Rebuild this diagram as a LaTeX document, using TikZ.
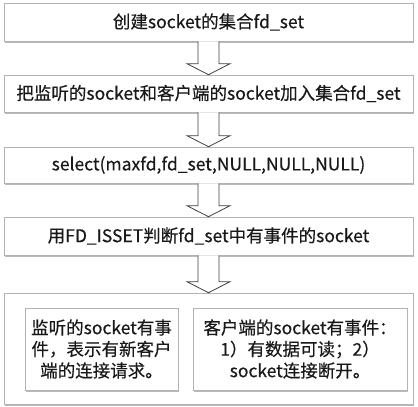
\documentclass[tikz,border=0pt]{standalone}
\usepackage{fontspec}
\setmainfont{Noto Sans CJK SC}[FakeBold=0.35]
\usetikzlibrary{calc,shadows}
\tikzset{font={\fontsize{17.5pt}{21.5pt}\selectfont}}

\begin{document}
\begin{tikzpicture}[x=1pt,y=-1pt,
stepbox/.style={draw=black!30,fill=white,line width=0.6pt,text=black!90,
  drop shadow={shadow xshift=1.2pt,shadow yshift=-1.6pt,fill=black!45,opacity=0.6}},
hollow/.style={draw=black!75,line width=0.8pt,fill=white,
  to path={let \p1=(\tikztostart), \p2=(\tikztotarget) in
  (\x1-10.5pt,\y1) -- (\x1-10.5pt,\y2+11pt) -- (\x1-21.5pt,\y2+11pt) -- (\x1,\y2)
  -- (\x1+21.5pt,\y2+11pt) -- (\x1+10.5pt,\y2+11pt) -- (\x1+10.5pt,\y1)}}
]
\useasboundingbox (0,0) rectangle (418,407);
\node[stepbox,minimum width=409pt,minimum height=38pt] (create) at (208.5,22) {创建socket的集合fd\_set};
\node[stepbox,minimum width=409pt,minimum height=37pt] (add) at (208.5,93.5) {把监听的socket和客户端的socket加入集合fd\_set};
\node[stepbox,minimum width=409pt,minimum height=36pt] (select) at (208.5,165) {select(maxfd,fd\_set,NULL,NULL,NULL)};
\node[stepbox,minimum width=409pt,minimum height=38pt] (isset) at (208.5,236) {用FD\_ISSET判断fd\_set中有事件的socket};
\node[stepbox,minimum width=409pt,minimum height=111pt] (events) at (208.5,348.5) {};

% two kinds of events
\node[stepbox,minimum width=153pt,minimum height=82pt,align=center] (listen) at (101.5,349) {监听的socket有事\\件，表示有新客户\\端的连接请求。};
\node[stepbox,minimum width=214pt,minimum height=82pt,align=center] (client) at (300,349) {客户端的socket有事件：\\1）有数据可读；2）\\socket连接断开。};

\foreach \a/\b in {create/add,add/select,select/isset,isset/events}
  \draw[hollow] (\a.south) to (\b.north);
\end{tikzpicture}
\end{document}
